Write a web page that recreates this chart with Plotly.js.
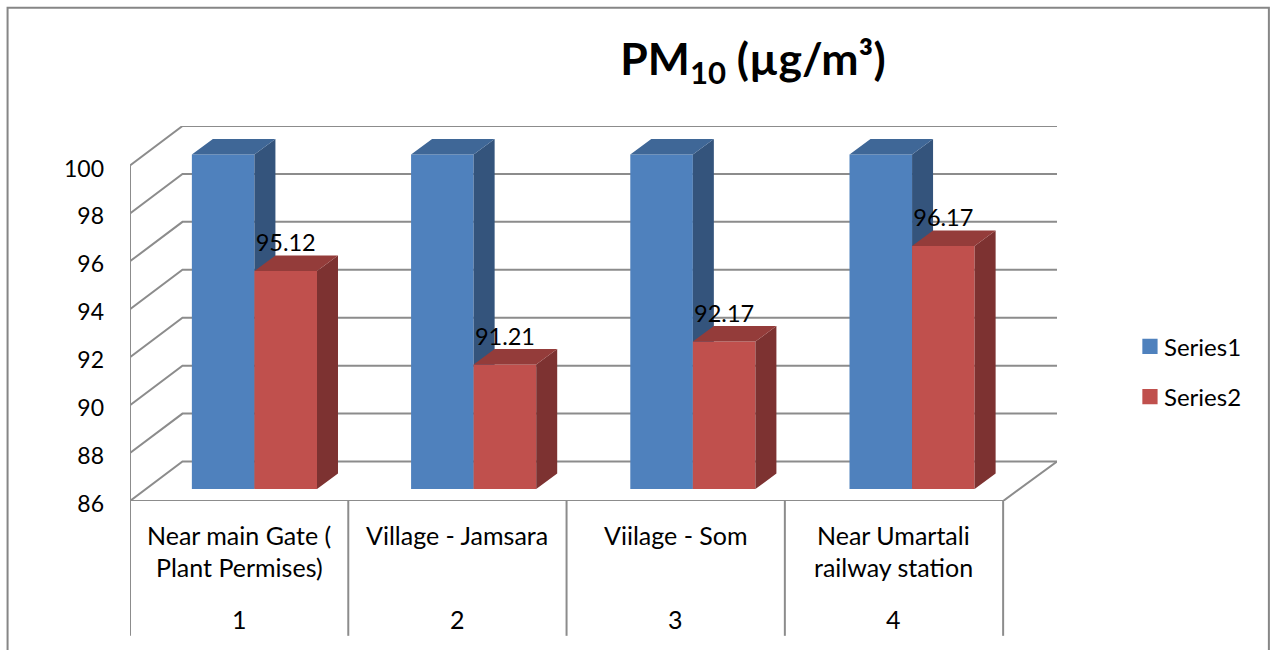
<!DOCTYPE html>
<html>
<head>
<meta charset="utf-8">
<script src="https://cdn.plot.ly/plotly-3.0.1.min.js"></script>
<style>html,body{margin:0;padding:0;background:#fff;overflow:hidden}#chart{width:1273px;height:650px}</style>
</head>
<body>
<div id="chart"></div>
<script>
// ---- data ----
const categoryNumbers = [1, 2, 3, 4];
const categoryLine1 = ["Near main Gate (", "Village - Jamsara", "Viilage - Som", "Near Umartali"];
const categoryLine2 = ["Plant Permises)", "", "", "railway station"];
const series1Values = [100, 100, 100, 100];
const series2Values = [95.12, 91.21, 92.17, 96.17];
const series1Name = "Series1";
const series2Name = "Series2";
const yTicks = [86, 88, 90, 92, 94, 96, 98, 100];
const chartTitle = "PM<sub>10</sub> (µg/m³)";

// ---- page geometry (pixels) ----
const L = 129.5, R = 1057, T = 125.5, B = 501;
const W = R - L, H = B - T;
const catPx = 218.4, barCatPx = 219.33, unitPx = 24, barUnitPx = 23.93;
const yMin = 86;
const xStart = 0.5, xEnd = xStart + W / catPx;
const yEnd = yMin + H / unitPx;
const wallDx = 52.5 / catPx, wallDy = 39.5 / unitPx;
const barLiftPx = 12, firstBarPx = 254;
const barW = 62.6 / barCatPx;
const sideDx = 21 / barCatPx, sideDy = 15.5 / barUnitPx;
const labelLift = 0.58;

const gridColor = "#8c8c8c", font = "Lato, Carlito, sans-serif", ink = "#000000";
const xBarRange = [1 - (firstBarPx - L) / barCatPx, 1 + (R - firstBarPx) / barCatPx];
const yBarRange = [yMin - barLiftPx / barUnitPx, yMin + (H - barLiftPx) / barUnitPx];
const px = v => (v - L) / W, py = v => (B - v) / H;

// wall and floor lines, from the axis values
const wallX = [], wallY = [];
yTicks.forEach(v => {
  wallX.push(xStart, xStart + wallDx, xEnd, null);
  wallY.push(v, v + wallDy, v + wallDy, null);
});
wallX.push(xStart, xStart, null, xStart, 4.5, xEnd);
wallY.push(yMin, 100, null, yMin, yMin, yMin + wallDy);

function faces(values, xLeft, xRight, color, axisX, axisY) {
  const sideX = [], sideY = [], topX = [], topY = [];
  values.forEach((v, i) => {
    const xl = categoryNumbers[i] + xLeft, xr = categoryNumbers[i] + xRight;
    sideX.push(xr, xr + sideDx, xr + sideDx, xr, xr, null);
    sideY.push(yMin, yMin + sideDy, v + sideDy, v, yMin, null);
    topX.push(xl, xl + sideDx, xr + sideDx, xr, xl, null);
    topY.push(v, v + sideDy, v + sideDy, v, v, null);
  });
  const mk = (x, y, c) => ({type: "scatter", mode: "lines", x, y, xaxis: axisX, yaxis: axisY,
    fill: "toself", fillcolor: c, line: {width: 0, color: c}, hoverinfo: "skip", showlegend: false});
  return [mk(sideX, sideY, color.side), mk(topX, topY, color.top)];
}
const blue = {front: "#4F81BD", side: "#34547C", top: "#3F6797"};
const red = {front: "#C0504D", side: "#7D3231", top: "#943C3A"};

const traces = [
  {type: "scatter", mode: "lines", x: wallX, y: wallY, xaxis: "x", yaxis: "y",
   line: {color: gridColor, width: 2}, hoverinfo: "skip", showlegend: false},
  {type: "bar", name: series1Name, x: categoryNumbers, y: series1Values.map(v => v - yMin), base: yMin,
   width: barW, offset: -barW, xaxis: "x2", yaxis: "y2", marker: {color: blue.front, line: {width: 0}},
   legendgroup: "a"},
  ...faces(series1Values, -barW, 0, blue, "x2", "y2"),
  {type: "bar", name: series2Name, x: categoryNumbers, y: series2Values.map(v => v - yMin), base: yMin,
   width: barW, offset: 0, xaxis: "x3", yaxis: "y3", marker: {color: red.front, line: {width: 0}},
   legendgroup: "b"},
  ...faces(series2Values, 0, barW, red, "x3", "y3"),
  {type: "scatter", mode: "text", x: categoryNumbers.map(c => c + barW / 2), y: series2Values.map(v => v + labelLift),
   text: series2Values.map(v => v.toFixed(2)), textposition: "top center", xaxis: "x3", yaxis: "y3",
   textfont: {family: font, size: 23.5, color: ink}, hoverinfo: "skip", showlegend: false, cliponaxis: false}
];

const annotations = [];
const catLabel = (x, text, yPx) => annotations.push({xref: "x", yref: "paper", x, y: py(yPx), text,
  showarrow: false, xanchor: "center", yanchor: "middle", font: {family: font, size: 25, color: ink}});
categoryNumbers.forEach((c, i) => {
  catLabel(c, categoryLine1[i], 535);
  if (categoryLine2[i]) catLabel(c, categoryLine2[i], 567);
  catLabel(c, String(c), 619);
});

const dividerXs = [0.5, 1.5, 2.5, 3.5, 4.5];
const shapes = dividerXs.map(x => ({type: "line", xref: "x", yref: "paper", x0: x, x1: x, y0: py(B), y1: py(636),
  line: {color: gridColor, width: 2}}));
shapes.push({type: "path", xref: "paper", yref: "paper", layer: "below",
  path: `M${px(7)},${py(660)} L${px(7)},${py(7)} L${px(1269)},${py(7)} L${px(1269)},${py(660)}`,
  line: {color: "#868686", width: 2}});

const hiddenX = r => ({range: r, visible: false, overlaying: "x", fixedrange: true});
const hiddenY = r => ({range: r, visible: false, overlaying: "y", fixedrange: true});

const layout = {
  width: 1273, height: 650, autosize: false,
  margin: {l: L, r: 1273 - R, t: T, b: 650 - B, pad: 0},
  paper_bgcolor: "#ffffff", plot_bgcolor: "rgba(0,0,0,0)",
  font: {family: font, color: ink},
  title: {text: chartTitle, x: 753 / 1273, xanchor: "center", xref: "container", y: 1 - 59 / 650, yanchor: "middle",
          font: {family: font, size: 44.5, weight: 700, color: ink}},
  barmode: "overlay",
  xaxis: {range: [xStart, xEnd], showgrid: false, zeroline: false, showticklabels: false, ticks: "", showline: false, fixedrange: true},
  yaxis: {range: [yMin, yEnd], tickvals: yTicks, ticktext: yTicks.map(String), showgrid: false, zeroline: false, showline: false,
          ticks: "", ticklabelstandoff: 25, ticklabelshift: 3, tickfont: {family: font, size: 23, color: ink}, fixedrange: true},
  xaxis2: hiddenX(xBarRange), yaxis2: hiddenY(yBarRange),
  xaxis3: hiddenX(xBarRange), yaxis3: hiddenY(yBarRange),
  legend: {x: px(1124), xanchor: "left", y: py(324), yanchor: "top", traceorder: "grouped", tracegroupgap: 16,
           font: {family: font, size: 24, color: ink}, bgcolor: "rgba(0,0,0,0)", borderwidth: 0, itemclick: false, itemdoubleclick: false},
  showlegend: true, annotations, shapes
};
Plotly.newPlot("chart", traces, layout, {displayModeBar: false, responsive: false}).then(() => {
  // legend keys: the reference's squares are larger and closer to their text than the library's default
  document.querySelectorAll("#chart .legend .legendpoints path").forEach(p => {
    p.setAttribute("transform", "translate(26,0) scale(1.27)");
  });
});
</script>
</body>
</html>
